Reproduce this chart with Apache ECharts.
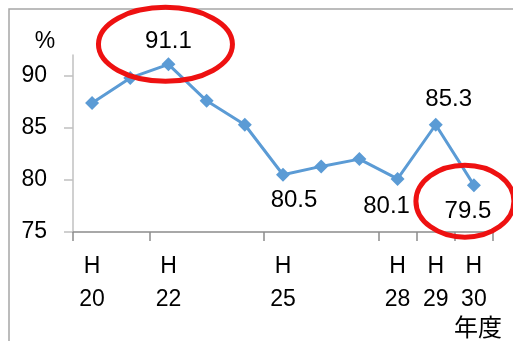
<!DOCTYPE html>
<html>
<head>
<meta charset="utf-8">
<script src="https://cdn.jsdelivr.net/npm/echarts@6/dist/echarts.min.js"></script>
<style>
  html, body { margin: 0; padding: 0; background: #fff; }
  #chart { width: 513px; height: 341px; }
</style>
</head>
<body>
<div id="chart"></div>
<script>
// Fiscal years (Heisei era) and the rate for each year
const years = ['H\n20', 'H\n21', 'H\n22', 'H\n23', 'H\n24', 'H\n25', 'H\n26', 'H\n27', 'H\n28', 'H\n29', 'H\n30'];
const rates = [87.4, 89.8, 91.1, 87.6, 85.3, 80.5, 81.3, 82.0, 80.1, 85.3, 79.5];
const shownYearIdx = [0, 2, 5, 8, 9, 10];
const yTicks = [75, 80, 85, 90];

// Which points carry a value label, and where it sits
const labelled = {
  2: { position: 'top', distance: 4, offset: [0, 0] },
  5: { position: 'bottom', distance: 7, offset: [11, 0] },
  8: { position: 'bottom', distance: 8, offset: [-11, 0] },
  9: { position: 'top', distance: 6, offset: [13, 0] },
  10: { position: 'bottom', distance: 7, offset: [-6, 0] }
};

const FONT = '"Liberation Sans", Arial, sans-serif';

const seriesData = rates.map((v, i) => {
  const item = { value: v };
  if (labelled[i]) {
    item.label = Object.assign({ show: true }, labelled[i]);
  }
  return item;
});

const chart = echarts.init(document.getElementById('chart'), null, { renderer: 'canvas' });

chart.setOption({
  animation: false,
  backgroundColor: '#ffffff',
  grid: { left: 73, right: 20, top: 55, bottom: 109, containLabel: false },
  xAxis: {
    type: 'category',
    data: years,
    boundaryGap: true,
    axisLine: { lineStyle: { color: '#8c8c8c', width: 1.5 } },
    axisTick: { show: true, length: 9, inside: false, lineStyle: { color: '#8c8c8c', width: 1.5 } },
    axisLabel: {
      margin: 18,
      interval: (idx) => shownYearIdx.includes(idx),
      color: '#000',
      fontFamily: FONT,
      fontSize: 23,
      lineHeight: 33
    },
    splitLine: { show: false }
  },
  yAxis: {
    type: 'value',
    min: 75,
    max: 92,
    interval: 5,
    axisLine: { show: true, lineStyle: { color: '#c0c0c0', width: 1.5 } },
    axisTick: { show: true, length: 9, customValues: yTicks, lineStyle: { color: '#c0c0c0', width: 1.5 } },
    axisLabel: {
      margin: 26,
      customValues: yTicks,
      color: '#000',
      fontFamily: FONT,
      fontSize: 23
    },
    splitLine: { show: false }
  },
  series: [{
    type: 'line',
    data: seriesData,
    symbol: 'diamond',
    symbolSize: 14,
    lineStyle: { color: '#5b9bd5', width: 3 },
    itemStyle: { color: '#5b9bd5' },
    label: {
      show: false,
      color: '#000',
      fontFamily: FONT,
      fontSize: 24
    },
    z: 3
  }],
  graphic: [
    {
      id: 'frame',
      type: 'rect',
      shape: { x: 9, y: 9, width: 700, height: 500 },
      style: { fill: 'none', stroke: '#a6a6a6', lineWidth: 1.5 },
      silent: true
    },
    {
      id: 'unit',
      type: 'text',
      x: 45, y: 42,
      style: { text: '%', fill: '#000', font: '23px ' + FONT, textAlign: 'center', textVerticalAlign: 'middle' }
    },
    {
      id: 'yearUnit',
      type: 'text',
      x: 478, y: 327,
      style: { text: '年度', fill: '#000', font: '24px "Noto Sans CJK JP", sans-serif', textAlign: 'center', textVerticalAlign: 'middle' }
    }
  ]
});

// Red rings highlighting the peak year and the latest year, placed from the data points
const peak = chart.convertToPixel({ seriesIndex: 0 }, [2, rates[2]]);
const last = chart.convertToPixel({ seriesIndex: 0 }, [10, rates[10]]);
chart.setOption({
  graphic: [
    {
      id: 'ringPeak',
      type: 'ellipse',
      shape: { cx: peak[0] - 3, cy: peak[1] - 20, rx: 67, ry: 37 },
      style: { fill: 'none', stroke: '#ee1111', lineWidth: 5 },
      z: 10
    },
    {
      id: 'ringLast',
      type: 'ellipse',
      shape: { cx: last[0] - 9, cy: last[1] + 16, rx: 49, ry: 36 },
      style: { fill: 'none', stroke: '#ee1111', lineWidth: 5 },
      z: 10
    }
  ]
});
</script>
</body>
</html>
